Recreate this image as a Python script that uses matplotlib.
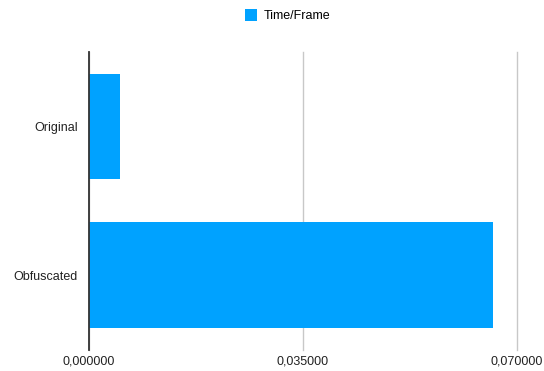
import matplotlib
matplotlib.use("Agg")
import matplotlib.pyplot as plt
from matplotlib.ticker import FuncFormatter

# seconds per frame for each build
categories = ["Original", "Obfuscated"]
time_per_frame = [0.00512, 0.0661]
xticks = [0.0, 0.035, 0.07]

plt.rcParams["font.family"] = ["Liberation Sans", "DejaVu Sans"]

fig = plt.figure(figsize=(5.44, 3.71), dpi=100)
ax = fig.add_axes([0.163, 0.057, 0.787, 0.803])

ax.barh(categories, time_per_frame, height=0.71, color="#00A2FF", label="Time/Frame", zorder=3)
ax.set_ylim(1.5, -0.5)
ax.set_xlim(0, 0.07)
ax.set_xticks(xticks)
ax.xaxis.set_major_formatter(FuncFormatter(lambda v, p: f"{v:.6f}".replace(".", ",")))
ax.grid(axis="x", color="#c8c8c8", linewidth=1.0, zorder=0)
for gl in ax.get_xgridlines():
    gl.set_clip_on(False)
ax.tick_params(axis="x", length=0, pad=4, labelsize=9, colors="#222222")
ax.tick_params(axis="y", length=0, pad=8, labelsize=9, colors="#222222")
for s in ["top", "right", "bottom"]:
    ax.spines[s].set_visible(False)
ax.spines["left"].set_color("#333333")
ax.spines["left"].set_linewidth(1.3)
ax.spines["left"].set_zorder(4)

fig.legend(loc="upper center", bbox_to_anchor=(0.528, 1.005), frameon=False, fontsize=9,
           handlelength=1.0, handleheight=1.0, handletextpad=0.5)

fig.savefig("out.png", dpi=100)
